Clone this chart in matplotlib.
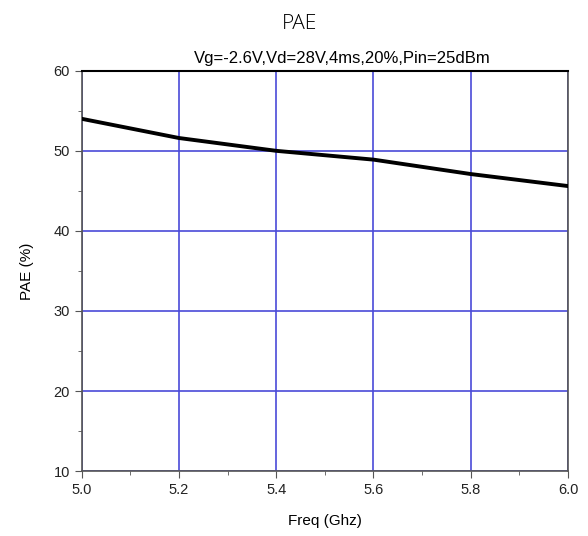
import matplotlib
matplotlib.use("Agg")
import matplotlib.pyplot as plt
from matplotlib.ticker import MultipleLocator

freq = [5.0, 5.2, 5.4, 5.6, 5.8, 6.0]
pae = [54.0, 51.6, 50.0, 48.9, 47.1, 45.6]
xticks = [5.0, 5.2, 5.4, 5.6, 5.8, 6.0]
yticks = [10, 20, 30, 40, 50, 60]

fig = plt.figure(figsize=(5.88, 5.36), dpi=100)
ax = fig.add_axes([0.139, 0.121, 0.827, 0.747])
ax.plot(freq, pae, color="black", lw=2.8, zorder=3)
ax.set_xlim(5.0, 6.0)
ax.set_ylim(10, 60)
ax.set_xticks(xticks)
ax.set_xticklabels([f"{v:.1f}" for v in xticks])
ax.set_yticks(yticks)
ax.xaxis.set_minor_locator(MultipleLocator(0.1))
ax.yaxis.set_minor_locator(MultipleLocator(5))
ax.grid(True, which="major", color="#4a4ad8", lw=1.2)
for s in ["left", "right", "bottom"]:
    ax.spines[s].set_color("#555555")
    ax.spines[s].set_linewidth(1.2)
ax.spines["top"].set_color("black")
ax.spines["top"].set_linewidth(1.5)
ax.tick_params(which="both", direction="out", colors="#555555", labelcolor="#222222",
               labelsize=10.5)
ax.tick_params(which="major", length=5)
ax.tick_params(which="minor", length=3)
for lab in ax.get_xticklabels() + ax.get_yticklabels():
    lab.set_family("Liberation Sans")
ax.set_xlabel("Freq (Ghz)", fontsize=11, family="Liberation Sans", labelpad=12)
ax.set_ylabel("PAE (%)", fontsize=11, family="Liberation Sans", labelpad=14)
ax.text(0.535, 1.012, "Vg=-2.6V,Vd=28V,4ms,20%,Pin=25dBm", transform=ax.transAxes,
        ha="center", va="bottom", fontsize=12, family="Liberation Sans")
fig.text(0.51, 0.955, "PAE", ha="center", va="center", fontsize=15,
         family="Open Sans", fontweight="light")
fig.savefig("out.png", dpi=100)
